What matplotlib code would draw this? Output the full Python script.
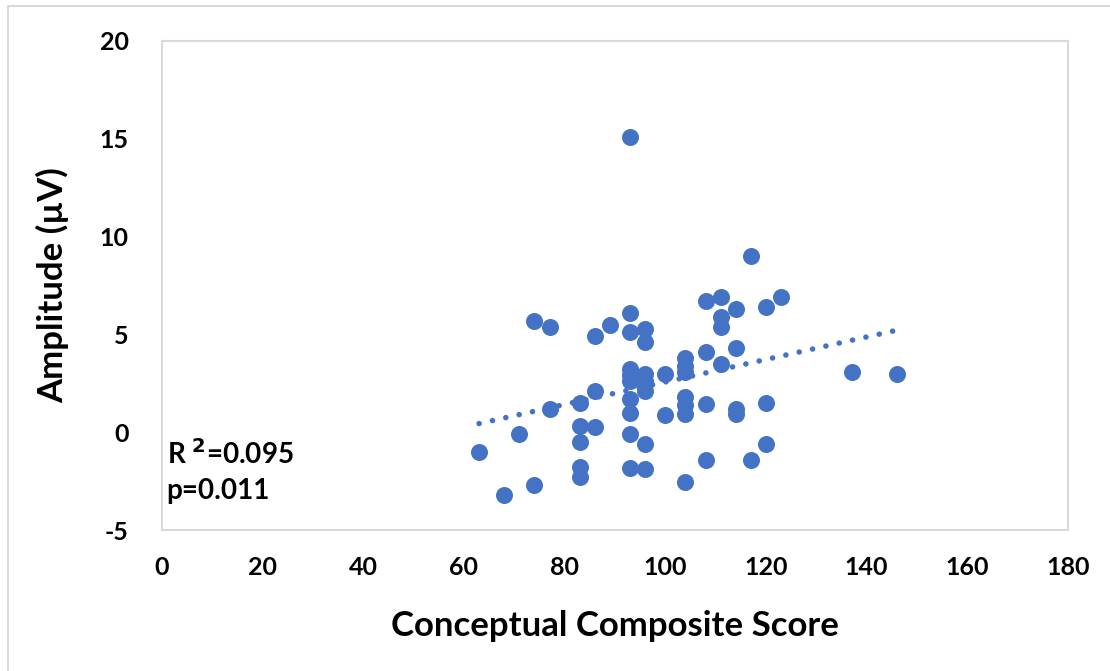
import matplotlib.pyplot as plt
from matplotlib.patches import Rectangle
import numpy as np

# scores (x) and amplitudes (y)
score = [63, 68, 71, 74, 74, 77, 77, 83, 83, 83, 83, 83, 86, 86, 86, 89,
         93, 93, 93, 93, 93, 93, 93, 93, 93, 93,
         96, 96, 96, 96, 96, 96, 96, 100, 100,
         104, 104, 104, 104, 104, 104, 104,
         108, 108, 108, 108, 111, 111, 111, 111,
         114, 114, 114, 114, 117, 117, 120, 120, 120, 123, 137, 146]
amplitude = [-1.0, -3.2, -0.1, -2.7, 5.7, 5.4, 1.2, 1.5, 0.3, -0.5, -1.8, -2.3, 4.9, 2.1, 0.25, 5.5,
             15.1, 6.1, 5.1, 3.25, 2.9, 2.6, 1.7, 1.0, -0.1, -1.85,
             5.3, 4.6, 3.0, 2.6, 2.1, -0.6, -1.9, 3.0, 0.9,
             3.8, 3.4, 3.1, 1.8, 1.4, 0.95, -2.55,
             6.7, 4.1, 1.45, -1.4, 6.9, 5.9, 5.4, 3.5,
             6.3, 4.3, 1.2, 0.95, 9.0, -1.4, 6.4, 1.5, -0.6, 6.9, 3.1, 3.0]

x_ticks = [0, 20, 40, 60, 80, 100, 120, 140, 160, 180]
y_ticks = [-5, 0, 5, 10, 15, 20]
stats_text = "R $^{2}$=0.095\np=0.011"

plt.rcParams['font.family'] = ['Lato', 'DejaVu Sans']
plt.rcParams['font.weight'] = 'bold'
plt.rcParams['axes.unicode_minus'] = False
plt.rcParams['mathtext.default'] = 'bf'

blue = "#4472C4"
grey = "#d9d9d9"

fig = plt.figure(figsize=(11.1, 6.71), dpi=100)
ax = fig.add_axes([162/1110, 1 - 530/671, 906/1110, 489/671])

ax.scatter(score, amplitude, s=150, color=blue, zorder=3, linewidths=0)

# linear trendline
slope, intercept = np.polyfit(score, amplitude, 1)
xs = np.array([min(score), max(score)])
ax.plot(xs, slope * xs + intercept, color=blue, linewidth=4,
        linestyle=(0, (0.01, 2.45)), dash_capstyle='round', zorder=2)

ax.set_xlim(0, 180)
ax.set_ylim(-5, 20)
ax.set_xticks(x_ticks)
ax.set_yticks(y_ticks)
ax.tick_params(length=0, labelsize=18)
ax.tick_params(axis='x', pad=19)
ax.tick_params(axis='y', pad=24)
for lab in ax.get_xticklabels() + ax.get_yticklabels():
    lab.set_fontweight('bold')

for sp in ax.spines.values():
    sp.set_color(grey)
    sp.set_linewidth(1.5)

ax.set_xlabel("Conceptual Composite Score", fontsize=25, fontweight='bold', labelpad=22)
ax.set_ylabel("Amplitude (µV)", fontsize=25, fontweight='bold', labelpad=22)

ax.text(0.005, 0.185, stats_text, transform=ax.transAxes, fontsize=20,
        fontweight='bold', va='top', ha='left', linespacing=1.4)

# outer chart border
fig.add_artist(Rectangle((8/1110, -0.05), 1.0, 1 - 6/671 + 0.05,
                         transform=fig.transFigure, fill=False,
                         edgecolor=grey, linewidth=1.5))

fig.savefig("out.png", dpi=100)
